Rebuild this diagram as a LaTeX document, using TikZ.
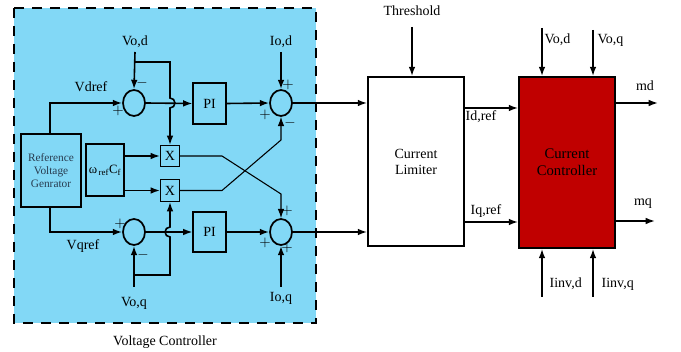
\documentclass[tikz,border=0pt]{standalone}
\usepackage{fontspec}
\setmainfont{Liberation Serif}
\usetikzlibrary{arrows.meta,shapes.geometric}

\definecolor{vcblue}{RGB}{130,216,246}
\definecolor{ccred}{RGB}{192,0,0}
\definecolor{gentext}{RGB}{40,60,80}

\tikzset{
	sumnode/.style={ellipse, draw, line width=1.3pt, inner sep=0pt, minimum width=16.5pt, minimum height=19.5pt},
	blockbox/.style={rectangle, draw, line width=0.8pt, inner sep=1pt},
	bigbox/.style={rectangle, draw, line width=1.3pt, inner sep=1pt, align=center},
	lab/.style={inner sep=1pt, font=\fontsize{10.5}{12}\selectfont},
	sgn/.style={inner sep=0pt, font=\fontsize{11}{11}\selectfont\bfseries},
	wire/.style={line width=1.2pt},
}

\begin{document}
\begin{tikzpicture}[x=0.75pt, y=-0.75pt, >={Latex[length=7pt,width=5pt]}]

		\useasboundingbox (0,0) rectangle (681,352);

		% voltage controller area

		\draw[fill=vcblue, line width=1.5pt, dash pattern=on 7.5pt off 6pt] (14,8) rectangle (316,323);

		\node[lab] (vctext) at (165,342) {Voltage Controller};

		% blocks

		\node[bigbox, minimum width=45pt, minimum height=55pt, text=gentext, font=\fontsize{8.5}{10}\selectfont] (refgen) at (51,170.5) {Reference\\Voltage\\Genrator};

		\node[blockbox, minimum width=28.5pt, minimum height=39pt, font=\fontsize{9.5}{10}\selectfont] (wcf) at (105,170) {ω\textsubscript{\,ref}C\textsubscript{f}};

		\node[sumnode] (sumd1) at (134,103) {};

		\node[sumnode] (sumd2) at (281,103) {};

		\node[sumnode] (sumq1) at (134,232) {};

		\node[sumnode] (sumq2) at (281,232) {};

		\node[blockbox, minimum width=24.75pt, minimum height=30.75pt, lab] (pid) at (209.5,103.5) {PI};

		\node[blockbox, minimum width=24.75pt, minimum height=30pt, lab] (piq) at (209.5,232) {PI};

		\node[blockbox, minimum width=14.25pt, minimum height=15.75pt, lab] (muld) at (170,156) {X};

		\node[blockbox, minimum width=14.25pt, minimum height=16.5pt, lab] (mulq) at (170,190.5) {X};

		\node[bigbox, fill=white, minimum width=72pt, minimum height=126.75pt, lab] (limiter) at (416,161.5) {Current\\Limiter};

		\node[bigbox, fill=ccred, minimum width=72pt, minimum height=128.25pt, font=\fontsize{11}{13}\selectfont] (ctrl) at (567,162.5) {Current\\Controller};

		% define point

		\coordinate (vod)   at (135,52);

		\coordinate (iod)   at (281,52);

		\coordinate (voq)   at (134,287);

		\coordinate (ioq)   at (281,287);

		\coordinate (thr)   at (412,27);

		\coordinate (ccvod) at (542,28);

		\coordinate (ccvoq) at (593,30);

		\coordinate (mdend) at (658,103);

		\coordinate (mqend) at (655,221);

		\coordinate (iinvd) at (542,297);

		\coordinate (iinvq) at (593,297);

		% labels

		\node[lab] (vodtext) at (135,42) {Vo,d};

		\node[lab] (iodtext) at (281,42) {Io,d};

		\node[lab] (voqtext) at (134,303) {Vo,q};

		\node[lab] (ioqtext) at (281,298) {Io,q};

		\node[lab] (vdref) at (91,87) {Vdref};

		\node[lab] (vqref) at (83,246) {Vqref};

		\node[lab] (thrtext) at (412,11) {Threshold};

		\node[lab, anchor=west] (idref) at (464,117) {Id,ref};

		\node[lab] (iqref) at (486,211) {Iq,ref};

		\node[lab, anchor=west] (ccvodtext) at (543,40) {Vo,d};

		\node[lab, anchor=west] (ccvoqtext) at (596,40) {Vo,q};

		\node[lab] (mdtext) at (645,86) {md};

		\node[lab] (mqtext) at (643,204) {mq};

		\node[lab, anchor=west] (iinvdtext) at (548,284) {Iinv,d};

		\node[lab, anchor=west] (iinvqtext) at (600,284) {Iinv,q};

		% signs

		\node[sgn] (s1) at (142,83) {$-$};

		\node[sgn] (s2) at (118,111) {$+$};

		\node[sgn] (s3) at (288,85) {$+$};

		\node[sgn] (s4) at (265,115) {$+$};

		\node[sgn] (s5) at (290,123) {$-$};

		\node[sgn] (s6) at (120,224) {$+$};

		\node[sgn] (s7) at (143,255) {$-$};

		\node[sgn] (s8) at (287,211) {$+$};

		\node[sgn] (s9) at (265,243) {$+$};

		\node[sgn] (s10) at (287,248) {$+$};

		% d axis

		\draw [->, wire] (refgen.north -| 50,0) |- (sumd1.west);

		\draw [->, wire] (vod) -- (sumd1.north);

		\draw [->, wire] (sumd1.east) -- (pid.west);

		\draw [->, wire] (135,62) -- (170,62) -- (170,98) arc[start angle=-90, end angle=90, radius=5] -- (muld.north);

		\draw [->, wire] (pid.east) -- (sumd2.west);

		\draw [->, wire] (iod) -- (sumd2.north);

		\draw [->, wire] (sumd2.east) -- (sumd2.east -| limiter.west);

		% q axis

		\draw [->, wire] (refgen.south -| 50,0) |- (sumq1.west);

		\draw [->, wire] (voq) -- (sumq1.south);

		\draw [->, wire] (sumq1.east) -- (piq.west);

		\draw [->, wire] (134,275) -- (170,275) -- (170,237) arc[start angle=90, end angle=270, radius=5] -- (mulq.south);

		\draw [->, wire] (piq.east) -- (sumq2.west);

		\draw [->, wire] (ioq) -- (sumq2.south);

		\draw [->, wire] (sumq2.east) -- (sumq2.east -| limiter.west);

		% cross coupling

		\draw [->, wire] (wcf.east |- muld) -- (muld.west);

		\draw [->, wire] (wcf.east |- mulq) -- (mulq.west);

		\draw [->, thick] (muld.east) -- (222,156) -- (281,194) -- (sumq2.north);

		\draw [->, thick] (mulq.east) -- (222,190.5) -- (281,140) -- (sumd2.south);

		% current limiter and controller

		\draw [->, wire] (thr) -- (thr |- limiter.north);

		\draw [->, wire] (limiter.east |- 0,108) -- (ctrl.west |- 0,108);

		\draw [->, wire] (limiter.east |- 0,222) -- (ctrl.west |- 0,222);

		\draw [->, wire] (ccvod) -- (ccvod |- ctrl.north);

		\draw [->, wire] (ccvoq) -- (ccvoq |- ctrl.north);

		\draw [->, wire] (iinvd) -- (iinvd |- ctrl.south);

		\draw [->, wire] (iinvq) -- (iinvq |- ctrl.south);

		\draw [->, wire] (ctrl.east |- mdend) -- (mdend);

		\draw [->, wire] (ctrl.east |- mqend) -- (mqend);

	\end{tikzpicture}
\end{document}
